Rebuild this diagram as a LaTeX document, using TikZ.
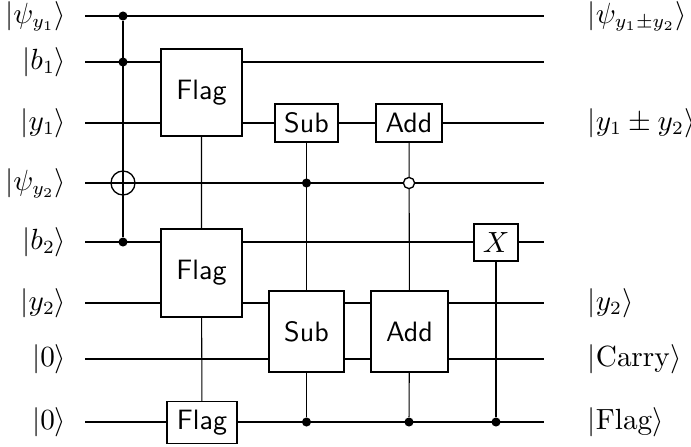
\documentclass[tikz,border=0pt]{standalone}
\usetikzlibrary{backgrounds}
\tikzset{every picture/.style={line width=0.5pt}}
\tikzset{
  gate/.style={draw,fill=white,font=\sffamily,inner sep=0pt},
  ctrl/.style={circle,fill=black,inner sep=0pt,minimum size=3.4pt},
  octrl/.style={circle,draw,fill=white,inner sep=0pt,minimum size=4.2pt},
  targ/.style={circle,draw,inner sep=0pt,minimum size=9pt}
}
\begin{document}
\fontsize{10.5}{12.6}\selectfont
\begin{tikzpicture}[x=0.375pt,y=0.375pt,yscale=-1,xscale=1]
    \useasboundingbox (0,0) rectangle (691,446);

    \draw (69,23.3) node [anchor=base east][inner sep=0.75pt] (lpsia) {$|\psi_{y_1}\rangle$};
    \draw (69,69.3) node [anchor=base east][inner sep=0.75pt] (lba) {$|b_1\rangle$};
    \draw (69,130.3) node [anchor=base east][inner sep=0.75pt] (lya) {$|y_1\rangle$};
    \draw (69,190.3) node [anchor=base east][inner sep=0.75pt] (lpsib) {$|\psi_{y_2}\rangle$};
    \draw (69,249.3) node [anchor=base east][inner sep=0.75pt] (lbb) {$|b_2\rangle$};
    \draw (69,310.3) node [anchor=base east][inner sep=0.75pt] (lyb) {$|y_2\rangle$};
    \draw (69,366.3) node [anchor=base east][inner sep=0.75pt] (lca) {$|0\rangle$};
    \draw (69,429.3) node [anchor=base east][inner sep=0.75pt] (lfa) {$|0\rangle$};

    \draw (585,23.3) node [anchor=base west][inner sep=0.75pt] (rpsi) {$|\psi_{y_1\pm y_2}\rangle$};
    \draw (585,130.3) node [anchor=base west][inner sep=0.75pt] (ry) {$|y_1\pm y_2\rangle$};
    \draw (585,310.3) node [anchor=base west][inner sep=0.75pt] (ryb) {$|y_2\rangle$};
    \draw (585,366.3) node [anchor=base west][inner sep=0.75pt] (rcarry) {$|\mathrm{Carry}\rangle$};
    \draw (585,429.3) node [anchor=base west][inner sep=0.75pt] (rflag) {$|\mathrm{Flag}\rangle$};

    \foreach \n/\y in {1/16,2/62,3/123,4/183,5/242,6/303,7/359,8/422} {
      \coordinate (w\n s) at (85,\y);
      \coordinate (w\n e) at (544,\y);
    }

    \node [ctrl] (cpa) at (123,16) {};
    \node [ctrl] (cba) at (123,62) {};
    \node [targ] (tpb) at (123,183) {};
    \node [ctrl] (cbb) at (123,242) {};

    \node [gate,minimum width=30.4pt,minimum height=32.6pt] (flagA) at (201.5,92.5) {Flag};
    \node [gate,minimum width=30.4pt,minimum height=33pt] (flagB) at (201.5,273) {Flag};
    \node [gate,minimum width=26.3pt,minimum height=15.8pt] (flagC) at (202,422.5) {Flag};

    \node [gate,minimum width=23.6pt,minimum height=14.3pt] (subA) at (306.5,123) {Sub};
    \node [ctrl] (csub) at (306.5,183) {};
    \node [gate,minimum width=28.1pt,minimum height=30.4pt] (subB) at (306.5,331.5) {Sub};
    \node [ctrl] (fsub) at (306.5,422) {};

    \node [gate,minimum width=24.8pt,minimum height=14.3pt] (addA) at (409,123) {Add};
    \node [octrl] (oadd) at (409,183) {};
    \node [gate,minimum width=28.9pt,minimum height=30.4pt] (addB) at (409.5,331.5) {Add};
    \node [ctrl] (fadd) at (409,422) {};

    \node [gate,minimum width=16.5pt,minimum height=13.9pt,font=\normalfont] (xg) at (496,242.5) {$X$};
    \node [ctrl] (fx) at (496,422) {};

    \begin{scope}[on background layer]
      \foreach \n in {1,...,8} \draw (w\n s) -- (w\n e);
      \draw (cpa) -- (cbb);
      \draw (flagA) -- (flagB) -- (flagC);
      \draw (subA) -- (subB) -- (fsub);
      \draw (addA) -- (addB) -- (fadd);
      \draw (xg) -- (fx);
    \end{scope}
\end{tikzpicture}
\end{document}
